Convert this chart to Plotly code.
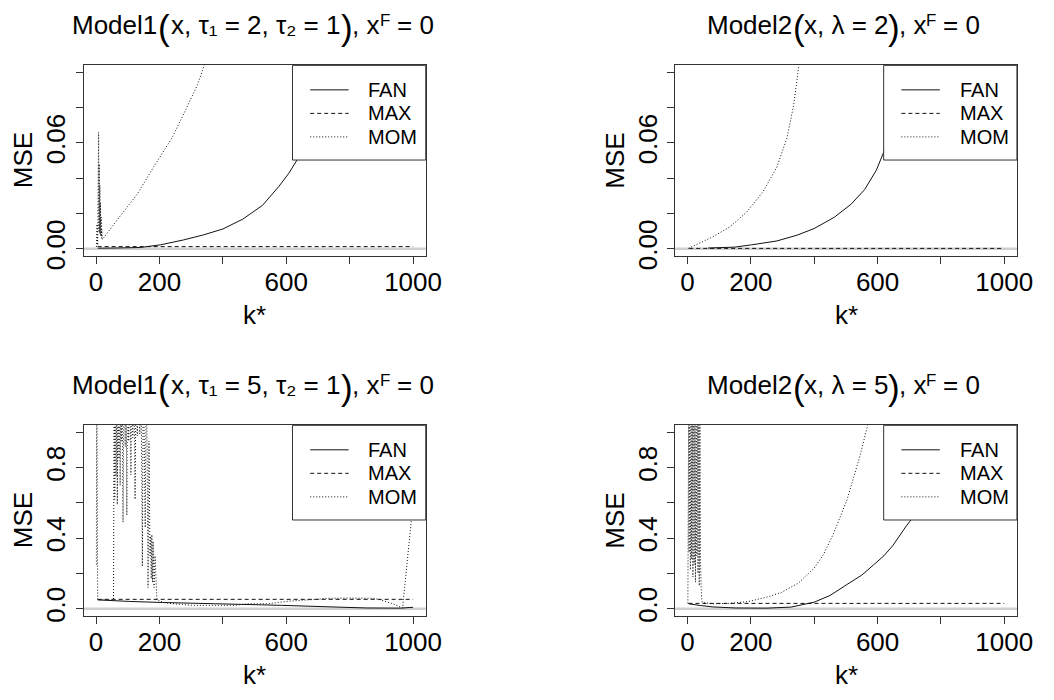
import plotly.graph_objects as go

W, H = 1054, 700
FONT = "Liberation Sans, Arial, sans-serif"

# ---- data -------------------------------------------------------------
series_names = ["FAN", "MAX", "MOM"]
series_dash = ["solid", "4px,3px", "1px,2px"]

x_label_vals = [0, 200, 600, 1000]
x_label_text = ["0", "200", "600", "1000"]
x_minor_vals = [400, 800]
y_label_vals_top = [0, 0.06]
y_label_text_top = ["0.00", "0.06"]
y_minor_vals_top = [0.02, 0.04, 0.08, 0.10]
y_label_vals_bot = [0, 0.4, 0.8]
y_label_text_bot = ["0.0", "0.4", "0.8"]
y_minor_vals_bot = [0.2, 0.6, 1.0]

# title pieces: model name, arguments inside the brackets
title_models = ["Model1", "Model2", "Model1", "Model2"]
title_args = ["x, τ₁ = 2, τ₂ = 1", "x, λ = 2", "x, τ₁ = 5, τ₂ = 1", "x, λ = 5"]
title_tail = ", x"
title_sup = "F"
title_end = "= 0"

# Model1, tau1 = 2
m1a_fan_k = [5, 60, 140, 203, 276, 338, 400, 463, 525, 577, 608, 634, 680, 720, 770]
m1a_fan = [0.0003, 0.0004, 0.0007, 0.0022, 0.0050, 0.0078, 0.0112, 0.0168, 0.0246,
           0.0354, 0.0428, 0.0503, 0.066, 0.085, 0.110]
m1a_max_k = [5, 1000]
m1a_max = [0.0012, 0.0012]
m1a_mom_k = [1, 3, 5, 8, 9, 10, 11, 12, 13, 14, 15, 16, 17, 18, 20, 40, 78, 130, 182,
             240, 286, 320, 340, 360]
m1a_mom = [0.001, 0.014, 0.002, 0.066, 0.010, 0.048, 0.009, 0.036, 0.008, 0.026, 0.007,
           0.018, 0.006, 0.011, 0.0052, 0.010, 0.019, 0.031, 0.0465, 0.063, 0.080, 0.093,
           0.1034, 0.112]

# Model2, lambda = 2
m2a_fan_k = [65, 149, 202, 282, 346, 399, 463, 516, 559, 596, 617, 660, 700, 735]
m2a_fan = [0.0004, 0.0009, 0.0022, 0.0044, 0.0077, 0.0114, 0.0178, 0.0252, 0.0335,
           0.0445, 0.0537, 0.075, 0.100, 0.125]
m2a_max_k = [5, 1000]
m2a_max = [0.0002, 0.0002]
m2a_mom_k = [3, 37, 80, 133, 186, 239, 282, 314, 335, 351, 365]
m2a_mom = [0.0002, 0.0031, 0.0068, 0.0123, 0.0206, 0.0325, 0.0463, 0.0629, 0.0813,
           0.1033, 0.125]

# Model1, tau1 = 5
m1b_fan_k = [5, 106, 210, 376, 584, 760, 854, 960, 1000]
m1b_fan = [0.050, 0.041, 0.035, 0.028, 0.019, 0.009, 0.004, 0.003, 0.008]
m1b_max_k = [5, 1000]
m1b_max = [0.053, 0.053]
m1b_mom_k = [1, 2, 5, 10, 30, 55, 57, 59, 61, 63, 65, 67, 69, 72, 74, 76, 78, 80, 82, 85,
             88, 92, 95, 97, 99, 103, 107, 110, 112, 116, 120, 123, 126, 130, 134, 138,
             142, 146, 149, 152, 155, 158, 161, 164, 167, 170, 172, 174, 176, 178, 180,
             183, 186, 189, 192, 200, 210, 230, 272, 303, 350, 438, 480, 542, 605, 650,
             688, 730, 800, 875, 894, 936, 967, 1000]
m1b_mom = [0.25, 1.6, 0.05, 0.05, 0.05, 0.05, 1.3, 0.62, 1.3, 0.75, 1.3, 0.59, 1.3, 0.85,
           1.3, 0.70, 1.3, 0.95, 1.3, 0.49, 1.3, 0.92, 1.3, 0.53, 1.3, 0.95, 1.3, 0.76,
           1.3, 0.97, 1.3, 0.62, 1.3, 0.98, 1.3, 0.99, 1.3, 0.24, 1.3, 0.95, 0.46, 1.3,
           0.90, 0.12, 0.95, 0.30, 0.41, 0.17, 0.42, 0.15, 0.38, 0.12, 0.30, 0.18, 0.05,
           0.045, 0.038, 0.030, 0.024, 0.019, 0.019, 0.019, 0.028, 0.028, 0.042, 0.048,
           0.052, 0.059, 0.060, 0.059, 0.052, 0.028, 0.004, 0.60]

# Model2, lambda = 5
m2b_fan_k = [3, 40, 80, 150, 250, 327, 400, 450, 504, 550, 587, 620, 649, 691, 717,
             750, 790, 830]
m2b_fan = [0.028, 0.018, 0.010, 0.004, 0.003, 0.009, 0.037, 0.075, 0.138, 0.19, 0.248,
           0.30, 0.36, 0.47, 0.53, 0.66, 0.85, 1.10]
m2b_max_k = [3, 1000]
m2b_max = [0.030, 0.030]
m2b_mom_k = [1, 2, 3, 4, 5, 7, 9, 11, 13, 15, 17, 19, 21, 23, 25, 27, 29, 31, 33, 35,
             37, 39, 41, 43, 45, 47, 80, 130, 190, 250, 296, 350, 400, 430, 462, 504,
             545, 570, 590]
m2b_mom = [0.03, 0.47, 0.90, 1.5, 0.32, 1.4, 0.22, 1.5, 0.28, 1.3, 0.18, 1.5, 0.25, 1.4,
           0.15, 1.5, 0.30, 1.3, 0.20, 1.5, 0.13, 1.4, 0.27, 0.12, 0.05, 0.035, 0.028,
           0.030, 0.040, 0.065, 0.092, 0.145, 0.23, 0.31, 0.43, 0.62, 0.87, 1.05, 1.25]

top_y = dict(yr=[-0.004, 0.104], yv=y_label_vals_top, yt=y_label_text_top,
             ym=y_minor_vals_top)
bot_y = dict(yr=[-0.04, 1.04], yv=y_label_vals_bot, yt=y_label_text_bot,
             ym=y_minor_vals_bot)
panels = [
    dict(series=[(m1a_fan_k, m1a_fan), (m1a_max_k, m1a_max), (m1a_mom_k, m1a_mom)], **top_y),
    dict(series=[(m2a_fan_k, m2a_fan), (m2a_max_k, m2a_max), (m2a_mom_k, m2a_mom)], **top_y),
    dict(series=[(m1b_fan_k, m1b_fan), (m1b_max_k, m1b_max), (m1b_mom_k, m1b_mom)], **bot_y),
    dict(series=[(m2b_fan_k, m2b_fan), (m2b_max_k, m2b_max), (m2b_mom_k, m2b_mom)], **bot_y),
]

# ---- layout geometry (pixels) -----------------------------------------
boxes = [  # left, right, top, bottom
    (85.0, 432.3, 66.7, 261.0),
    (685.6, 1032.6, 66.7, 261.0),
    (85.0, 432.3, 434.0, 628.3),
    (685.6, 1032.6, 434.0, 628.3),
]
# horizontal offsets of the big brackets from the panel centre
bracket_offsets = [(-92.0, 94.0), (-47.5, 48.4), (-92.0, 94.0), (-47.5, 48.4)]


def fx(px):
    return px / W


def fy(py):
    return 1 - py / H


def text_ann(text, px, py, size=26, xanchor="center", angle=0):
    return dict(text=text, xref="paper", yref="paper", x=fx(px), y=fy(py),
                xanchor=xanchor, yanchor="middle", textangle=angle, showarrow=False,
                font=dict(family=FONT, size=size, color="black"))


fig = go.Figure()
shapes, annotations = [], []
layout = dict(width=W, height=H, margin=dict(l=0, r=0, t=0, b=0),
              paper_bgcolor="white", plot_bgcolor="white", showlegend=False,
              font=dict(family=FONT, color="black"))

for i, (p, (l, r, t, b)) in enumerate(zip(panels, boxes)):
    n = "" if i == 0 else str(i + 1)
    xa, ya = "x" + n, "y" + n
    axis_style = dict(showline=True, linecolor="#333", linewidth=1, mirror=True,
                      ticks="outside", ticklen=7, tickwidth=1, tickcolor="#333",
                      showgrid=False, zeroline=False,
                      tickfont=dict(family=FONT, size=26, color="black"))
    minor_style = dict(ticks="outside", ticklen=7, tickwidth=1, tickcolor="#333",
                       showgrid=False)
    layout["xaxis" + n] = dict(domain=[fx(l), fx(r)], anchor=ya, range=[-39, 1040],
                               tickvals=x_label_vals, ticktext=x_label_text,
                               minor=dict(tickvals=x_minor_vals, **minor_style),
                               ticklabelstandoff=-4, **axis_style)
    layout["yaxis" + n] = dict(domain=[fy(b), fy(t)], anchor=xa, range=p["yr"],
                               tickvals=p["yv"], ticktext=p["yt"], tickangle=-90,
                               minor=dict(tickvals=p["ym"], **minor_style),
                               **axis_style)

    # grey reference line at zero
    shapes.append(dict(type="line", xref=xa + " domain", yref=ya, x0=0, x1=1, y0=0, y1=0,
                       line=dict(color="#cfcfcf", width=2.5), layer="below"))

    for (k, v), name, dash in zip(p["series"], series_names, series_dash):
        fig.add_trace(go.Scatter(x=k, y=v, mode="lines", name=name, xaxis=xa, yaxis=ya,
                                 line=dict(color="#111", width=1, dash=dash,
                                           simplify=False),
                                 hoverinfo="skip"))

    # legend box in the upper right corner
    lb_l, lb_b = r - 135.3, t + 96.6
    shapes.append(dict(type="rect", xref="paper", yref="paper", x0=fx(lb_l), x1=fx(r),
                       y0=fy(lb_b), y1=fy(t), fillcolor="white",
                       line=dict(color="#333", width=1), layer="above"))
    for j, (name, dash) in enumerate(zip(series_names, series_dash)):
        ry = t + 25 + 24 * j
        shapes.append(dict(type="line", xref="paper", yref="paper",
                           x0=fx(lb_l + 18), x1=fx(lb_l + 57), y0=fy(ry), y1=fy(ry),
                           line=dict(color="#111", width=1, dash=dash), layer="above"))
        annotations.append(text_ann(name, lb_l + 75, ry, size=20, xanchor="left"))

    # panel title, set piece by piece (large brackets, raised F)
    cx = (l + r) / 2
    dl, dr = bracket_offsets[i]
    ty = t - 41
    annotations.append(text_ann(title_models[i], cx + dl - 5, ty, xanchor="right"))
    annotations.append(text_ann("(", cx + dl, ty + 2, size=35))
    annotations.append(text_ann(title_args[i], cx + (dl + dr) / 2, ty))
    annotations.append(text_ann(")", cx + dr, ty + 2, size=35))
    annotations.append(text_ann(title_tail, cx + dr + 3, ty, xanchor="left"))
    annotations.append(text_ann(title_sup, cx + dr + 31, ty - 5, size=17, xanchor="left"))
    annotations.append(text_ann(title_end, cx + dr + 48, ty, xanchor="left"))

    # axis titles
    annotations.append(text_ann("k*", cx, b + 60))
    annotations.append(text_ann("MSE", l - 62, (t + b) / 2, angle=-90))

layout["shapes"] = shapes
layout["annotations"] = annotations
fig.update_layout(**layout)
fig.write_html("out.html")
